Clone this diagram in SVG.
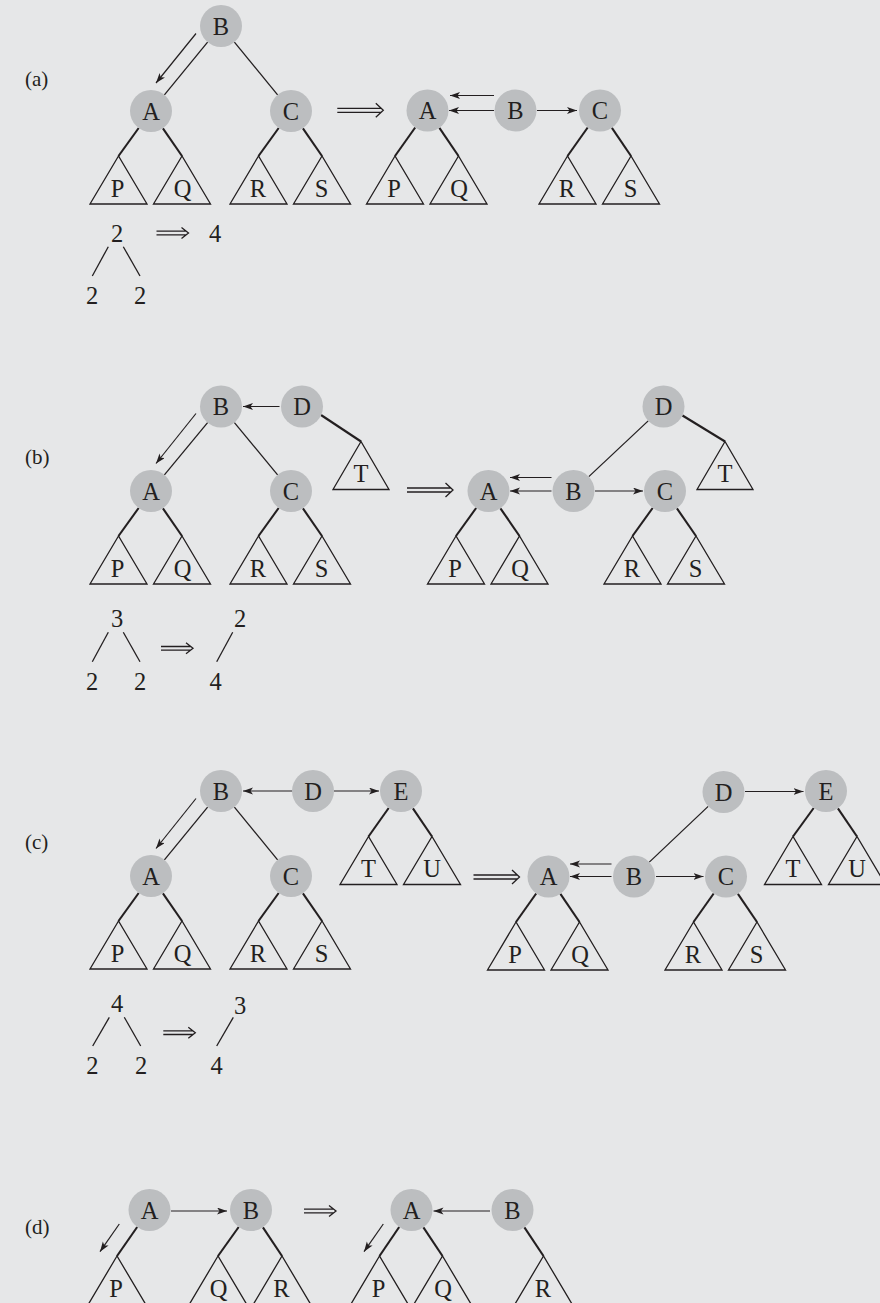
<svg xmlns="http://www.w3.org/2000/svg" xmlns:xlink="http://www.w3.org/1999/xlink" width="880" height="1303" viewBox="0 0 880 1303">
<style>
.bg{fill:#e6e7e8}
circle{fill:#bcbec0}
text{font-family:"Liberation Serif","Times New Roman",serif;fill:#231f20}
.lbl{font-size:24.5px;text-anchor:middle}
.tag{font-size:21px}
.tri{fill:none;stroke:#231f20;stroke-width:1.3}
.e{stroke:#231f20;stroke-width:1.3;fill:none}
.s{stroke:#231f20;stroke-width:2.1;fill:none}
.a{stroke:#231f20;stroke-width:1.2;fill:none;marker-end:url(#ah)}
.d{stroke:#231f20;stroke-width:1.3;fill:none}
</style>
<defs>
<marker id="ah" markerUnits="userSpaceOnUse" markerWidth="11" markerHeight="8" refX="10" refY="3.5" orient="auto">
<path d="M0,0 L10,3.5 L0,7 L2.5,3.5 Z" fill="#231f20"/>
</marker>
<path id="dbl" d="M0,-2 H44 M0,2 H44 M38.5,-7 L46,0 L38.5,7"/>
<path id="dbls" d="M0,-1.8 H30 M0,1.8 H30 M25,-5.5 L32,0 L25,5.5"/>
</defs>
<rect class="bg" x="0" y="0" width="880" height="1303"/>

<g id="tags">
<text class="tag" x="25" y="86">(a)</text>
<text class="tag" x="25" y="464">(b)</text>
<text class="tag" x="25" y="849">(c)</text>
<text class="tag" x="25" y="1234">(d)</text>
</g>

<g id="connectors">
<!-- (a) left -->
<line class="e" x1="207.6" y1="42.2" x2="164.4" y2="94.8"/>
<line class="e" x1="234.4" y1="42.2" x2="277.6" y2="94.8"/>
<line class="a" x1="196" y1="33.5" x2="156" y2="83"/>
<line class="s" x1="138.7" y1="128" x2="118.5" y2="156"/>
<line class="s" x1="162.9" y1="128.3" x2="182" y2="156"/>
<line class="s" x1="278.7" y1="128" x2="258.5" y2="156"/>
<line class="s" x1="302.9" y1="128.3" x2="322" y2="156"/>
<!-- (a) right -->
<line class="a" x1="494" y1="95.5" x2="450" y2="95.5"/>
<line class="a" x1="494" y1="110.5" x2="449" y2="110.5"/>
<line class="a" x1="537" y1="110.5" x2="577" y2="110.5"/>
<line class="s" x1="415.2" y1="127.5" x2="395" y2="156"/>
<line class="s" x1="439.4" y1="127.8" x2="458.5" y2="156"/>
<line class="s" x1="587.7" y1="127.5" x2="567.5" y2="156"/>
<line class="s" x1="611.9" y1="127.8" x2="631" y2="156"/>
<!-- (b) left -->
<line class="e" x1="207.6" y1="422.7" x2="164.4" y2="474.8"/>
<line class="e" x1="234.4" y1="422.7" x2="277.6" y2="474.8"/>
<line class="a" x1="196" y1="413.5" x2="156" y2="463.5"/>
<line class="a" x1="279.5" y1="406.5" x2="243" y2="406.5"/>
<line class="s" x1="321" y1="415" x2="361" y2="441.5"/>
<line class="s" x1="138.7" y1="508" x2="118.5" y2="536"/>
<line class="s" x1="162.9" y1="508.3" x2="182" y2="536"/>
<line class="s" x1="278.7" y1="508" x2="258.5" y2="536"/>
<line class="s" x1="302.9" y1="508.3" x2="322" y2="536"/>
<!-- (b) right -->
<line class="e" x1="648.2" y1="420.9" x2="588.8" y2="476.6"/>
<line class="s" x1="682.5" y1="415.5" x2="725" y2="441.5"/>
<line class="a" x1="551.5" y1="477.5" x2="510" y2="477.5"/>
<line class="a" x1="551.5" y1="491" x2="510" y2="491"/>
<line class="a" x1="595" y1="491" x2="643" y2="491"/>
<line class="s" x1="476.2" y1="508" x2="456" y2="536"/>
<line class="s" x1="500.4" y1="508.3" x2="519.5" y2="536"/>
<line class="s" x1="652.7" y1="508" x2="632.5" y2="536"/>
<line class="s" x1="676.9" y1="508.3" x2="696" y2="536"/>
<!-- (c) left -->
<line class="e" x1="207.6" y1="807.2" x2="164.4" y2="859.8"/>
<line class="e" x1="234.4" y1="807.2" x2="277.6" y2="859.8"/>
<line class="a" x1="196" y1="798.5" x2="156" y2="848.5"/>
<line class="a" x1="292.5" y1="791" x2="243" y2="791"/>
<line class="a" x1="334" y1="791" x2="379" y2="791"/>
<line class="s" x1="388.7" y1="808" x2="368.5" y2="836.5"/>
<line class="s" x1="412.9" y1="808.3" x2="432" y2="836.5"/>
<line class="s" x1="138.7" y1="893" x2="118.5" y2="921"/>
<line class="s" x1="162.9" y1="893.3" x2="182" y2="921"/>
<line class="s" x1="278.7" y1="893" x2="258.5" y2="921"/>
<line class="s" x1="302.9" y1="893.3" x2="322" y2="921"/>
<!-- (c) right -->
<line class="e" x1="708.2" y1="806.4" x2="649.3" y2="862.1"/>
<line class="a" x1="745" y1="791.5" x2="803.5" y2="791.5"/>
<line class="a" x1="611.5" y1="864" x2="570" y2="864"/>
<line class="a" x1="611.5" y1="876.5" x2="570" y2="876.5"/>
<line class="a" x1="656" y1="876.5" x2="703.5" y2="876.5"/>
<line class="s" x1="813.7" y1="808" x2="793" y2="836.5"/>
<line class="s" x1="837.9" y1="808.3" x2="857" y2="836.5"/>
<line class="s" x1="536.2" y1="893.5" x2="516" y2="922"/>
<line class="s" x1="560.4" y1="893.8" x2="579.5" y2="922"/>
<line class="s" x1="713.7" y1="893.5" x2="693.5" y2="922"/>
<line class="s" x1="737.9" y1="893.8" x2="757" y2="922"/>
<!-- (d) -->
<line class="a" x1="171" y1="1211" x2="227" y2="1211"/>
<line class="a" x1="490" y1="1211" x2="433.5" y2="1211"/>
<line class="a" x1="119.3" y1="1224" x2="100" y2="1251.7"/>
<line class="a" x1="383.3" y1="1224" x2="364" y2="1251.7"/>
<line class="s" x1="137.2" y1="1227" x2="117" y2="1256"/>
<line class="s" x1="238.7" y1="1227" x2="218" y2="1256"/>
<line class="s" x1="262.9" y1="1227.3" x2="282" y2="1256"/>
<line class="s" x1="399.2" y1="1227" x2="379.5" y2="1256"/>
<line class="s" x1="423.4" y1="1227.3" x2="442.5" y2="1256"/>
<line class="s" x1="524.4" y1="1227.3" x2="543.5" y2="1256"/>
<!-- transformation arrows -->
<use href="#dbl" class="d" x="337.3" y="110.3"/>
<use href="#dbl" class="d" x="407" y="490"/>
<use href="#dbl" class="d" x="473.5" y="877"/>
<use href="#dbls" class="d" x="304" y="1211"/>
<use href="#dbls" class="d" x="156.5" y="233"/>
<use href="#dbls" class="d" x="161" y="648.3"/>
<use href="#dbls" class="d" x="163.3" y="1032.7"/>
</g>

<!-- (a) left nodes -->
<g id="a1-B"><circle cx="221" cy="26" r="21"/><text class="lbl" x="221" y="34.5">B</text></g>
<g id="a1-A"><circle cx="151" cy="111" r="21"/><text class="lbl" x="151" y="119.5">A</text></g>
<g id="a1-C"><circle cx="291" cy="111" r="21"/><text class="lbl" x="291" y="119.5">C</text></g>
<g id="a1-P"><polygon class="tri" points="118.5,156 90,204 147,204"/><text class="lbl" x="117.5" y="196.5">P</text></g>
<g id="a1-Q"><polygon class="tri" points="182,156 153.5,204 210.5,204"/><text class="lbl" x="182.5" y="196.5">Q</text></g>
<g id="a1-R"><polygon class="tri" points="258.5,156 230,204 287,204"/><text class="lbl" x="258" y="196.5">R</text></g>
<g id="a1-S"><polygon class="tri" points="322,156 293.5,204 350.5,204"/><text class="lbl" x="321.5" y="196.5">S</text></g>
<!-- (a) right nodes -->
<g id="a2-A"><circle cx="427.5" cy="110.5" r="21"/><text class="lbl" x="427.5" y="119">A</text></g>
<g id="a2-B"><circle cx="515.5" cy="110.5" r="21"/><text class="lbl" x="515.5" y="119">B</text></g>
<g id="a2-C"><circle cx="600" cy="110.5" r="21"/><text class="lbl" x="600" y="119">C</text></g>
<g id="a2-P"><polygon class="tri" points="395,156 366.5,204 423.5,204"/><text class="lbl" x="394" y="196.5">P</text></g>
<g id="a2-Q"><polygon class="tri" points="458.5,156 430,204 487,204"/><text class="lbl" x="459" y="196.5">Q</text></g>
<g id="a2-R"><polygon class="tri" points="567.5,156 539,204 596,204"/><text class="lbl" x="567" y="196.5">R</text></g>
<g id="a2-S"><polygon class="tri" points="631,156 602.5,204 659.5,204"/><text class="lbl" x="630.5" y="196.5">S</text></g>
<!-- (a) numbers -->
<g id="a-num">
<text class="lbl" x="117" y="242">2</text>
<text class="lbl" x="215" y="242">4</text>
<line class="e" x1="108.3" y1="246.7" x2="92.3" y2="276"/>
<line class="e" x1="123.3" y1="246.7" x2="140" y2="276"/>
<text class="lbl" x="92" y="303.5">2</text>
<text class="lbl" x="140" y="303.5">2</text>
</g>

<!-- (b) left nodes -->
<g id="b1-B"><circle cx="221" cy="406.5" r="21"/><text class="lbl" x="221" y="415">B</text></g>
<g id="b1-D"><circle cx="302" cy="406.5" r="21"/><text class="lbl" x="302" y="415">D</text></g>
<g id="b1-A"><circle cx="151" cy="491" r="21"/><text class="lbl" x="151" y="499.5">A</text></g>
<g id="b1-C"><circle cx="291" cy="491" r="21"/><text class="lbl" x="291" y="499.5">C</text></g>
<g id="b1-T"><polygon class="tri" points="361,441.5 333,489.5 389,489.5"/><text class="lbl" x="361" y="482">T</text></g>
<g id="b1-P"><polygon class="tri" points="118.5,536 90,584 147,584"/><text class="lbl" x="117.5" y="576.5">P</text></g>
<g id="b1-Q"><polygon class="tri" points="182,536 153.5,584 210.5,584"/><text class="lbl" x="182.5" y="576.5">Q</text></g>
<g id="b1-R"><polygon class="tri" points="258.5,536 230,584 287,584"/><text class="lbl" x="258" y="576.5">R</text></g>
<g id="b1-S"><polygon class="tri" points="322,536 293.5,584 350.5,584"/><text class="lbl" x="321.5" y="576.5">S</text></g>
<!-- (b) right nodes -->
<g id="b2-D"><circle cx="663.5" cy="406.5" r="21"/><text class="lbl" x="663.5" y="415">D</text></g>
<g id="b2-A"><circle cx="488.5" cy="491" r="21"/><text class="lbl" x="488.5" y="499.5">A</text></g>
<g id="b2-B"><circle cx="573.5" cy="491" r="21"/><text class="lbl" x="573.5" y="499.5">B</text></g>
<g id="b2-C"><circle cx="665" cy="491" r="21"/><text class="lbl" x="665" y="499.5">C</text></g>
<g id="b2-T"><polygon class="tri" points="725,441.5 697,489.5 753,489.5"/><text class="lbl" x="725" y="482">T</text></g>
<g id="b2-P"><polygon class="tri" points="456,536 427.5,584 484.5,584"/><text class="lbl" x="455" y="576.5">P</text></g>
<g id="b2-Q"><polygon class="tri" points="519.5,536 491,584 548,584"/><text class="lbl" x="520" y="576.5">Q</text></g>
<g id="b2-R"><polygon class="tri" points="632.5,536 604,584 661,584"/><text class="lbl" x="632" y="576.5">R</text></g>
<g id="b2-S"><polygon class="tri" points="696,536 667.5,584 724.5,584"/><text class="lbl" x="695.5" y="576.5">S</text></g>
<!-- (b) numbers -->
<g id="b-num">
<text class="lbl" x="117" y="627">3</text>
<line class="e" x1="108.3" y1="632.3" x2="92.3" y2="661.7"/>
<line class="e" x1="123.3" y1="632.3" x2="140" y2="661.7"/>
<text class="lbl" x="92" y="690">2</text>
<text class="lbl" x="140" y="690">2</text>
<text class="lbl" x="240" y="627">2</text>
<line class="e" x1="232.7" y1="632.3" x2="216.7" y2="661.7"/>
<text class="lbl" x="215.5" y="690">4</text>
</g>

<!-- (c) left nodes -->
<g id="c1-B"><circle cx="221" cy="791" r="21"/><text class="lbl" x="221" y="799.5">B</text></g>
<g id="c1-D"><circle cx="313" cy="791" r="21"/><text class="lbl" x="313" y="799.5">D</text></g>
<g id="c1-E"><circle cx="401" cy="791" r="21"/><text class="lbl" x="401" y="799.5">E</text></g>
<g id="c1-A"><circle cx="151" cy="876" r="21"/><text class="lbl" x="151" y="884.5">A</text></g>
<g id="c1-C"><circle cx="291" cy="876" r="21"/><text class="lbl" x="291" y="884.5">C</text></g>
<g id="c1-T"><polygon class="tri" points="368.5,836.5 340,884.5 397,884.5"/><text class="lbl" x="368.5" y="877">T</text></g>
<g id="c1-U"><polygon class="tri" points="432,836.5 403.5,884.5 460.5,884.5"/><text class="lbl" x="432" y="877">U</text></g>
<g id="c1-P"><polygon class="tri" points="118.5,921 90,969 147,969"/><text class="lbl" x="117.5" y="961.5">P</text></g>
<g id="c1-Q"><polygon class="tri" points="182,921 153.5,969 210.5,969"/><text class="lbl" x="182.5" y="961.5">Q</text></g>
<g id="c1-R"><polygon class="tri" points="258.5,921 230,969 287,969"/><text class="lbl" x="258" y="961.5">R</text></g>
<g id="c1-S"><polygon class="tri" points="322,921 293.5,969 350.5,969"/><text class="lbl" x="321.5" y="961.5">S</text></g>
<!-- (c) right nodes -->
<g id="c2-D"><circle cx="723.5" cy="792" r="21"/><text class="lbl" x="723.5" y="800.5">D</text></g>
<g id="c2-E"><circle cx="826" cy="791" r="21"/><text class="lbl" x="826" y="799.5">E</text></g>
<g id="c2-A"><circle cx="548.5" cy="876.5" r="21"/><text class="lbl" x="548.5" y="885">A</text></g>
<g id="c2-B"><circle cx="634" cy="876.5" r="21"/><text class="lbl" x="634" y="885">B</text></g>
<g id="c2-C"><circle cx="726" cy="876.5" r="21"/><text class="lbl" x="726" y="885">C</text></g>
<g id="c2-T"><polygon class="tri" points="793,836.5 764.5,884.5 821.5,884.5"/><text class="lbl" x="793" y="877">T</text></g>
<g id="c2-U"><polygon class="tri" points="857,836.5 828.5,884.5 885.5,884.5"/><text class="lbl" x="857" y="877">U</text></g>
<g id="c2-P"><polygon class="tri" points="516,922 487.5,970 544.5,970"/><text class="lbl" x="515" y="962.5">P</text></g>
<g id="c2-Q"><polygon class="tri" points="579.5,922 551,970 608,970"/><text class="lbl" x="580" y="962.5">Q</text></g>
<g id="c2-R"><polygon class="tri" points="693.5,922 665,970 722,970"/><text class="lbl" x="693" y="962.5">R</text></g>
<g id="c2-S"><polygon class="tri" points="757,922 728.5,970 785.5,970"/><text class="lbl" x="756.5" y="962.5">S</text></g>
<!-- (c) numbers -->
<g id="c-num">
<text class="lbl" x="117" y="1012">4</text>
<line class="e" x1="109.3" y1="1017.3" x2="92.7" y2="1046"/>
<line class="e" x1="124.3" y1="1017.3" x2="140.7" y2="1046"/>
<text class="lbl" x="92.3" y="1073.5">2</text>
<text class="lbl" x="141" y="1073.5">2</text>
<text class="lbl" x="240" y="1013.5">3</text>
<line class="e" x1="233.3" y1="1017.3" x2="216.7" y2="1046"/>
<text class="lbl" x="216.7" y="1073.5">4</text>
</g>

<!-- (d) nodes -->
<g id="d1-A"><circle cx="149.5" cy="1210" r="21"/><text class="lbl" x="149.5" y="1218.5">A</text></g>
<g id="d1-B"><circle cx="251" cy="1210" r="21"/><text class="lbl" x="251" y="1218.5">B</text></g>
<g id="d1-P"><polygon class="tri" points="117,1256 88.5,1304 145.5,1304"/><text class="lbl" x="116" y="1296.5">P</text></g>
<g id="d1-Q"><polygon class="tri" points="218,1256 189.5,1304 246.5,1304"/><text class="lbl" x="218.5" y="1296.5">Q</text></g>
<g id="d1-R"><polygon class="tri" points="282,1256 253.5,1304 310.5,1304"/><text class="lbl" x="281.5" y="1296.5">R</text></g>
<g id="d2-A"><circle cx="411.5" cy="1210" r="21"/><text class="lbl" x="411.5" y="1218.5">A</text></g>
<g id="d2-B"><circle cx="512.5" cy="1210" r="21"/><text class="lbl" x="512.5" y="1218.5">B</text></g>
<g id="d2-P"><polygon class="tri" points="379.5,1256 351,1304 408,1304"/><text class="lbl" x="378.5" y="1296.5">P</text></g>
<g id="d2-Q"><polygon class="tri" points="442.5,1256 414,1304 471,1304"/><text class="lbl" x="443" y="1296.5">Q</text></g>
<g id="d2-R"><polygon class="tri" points="543.5,1256 515,1304 572,1304"/><text class="lbl" x="543" y="1296.5">R</text></g>
</svg>
